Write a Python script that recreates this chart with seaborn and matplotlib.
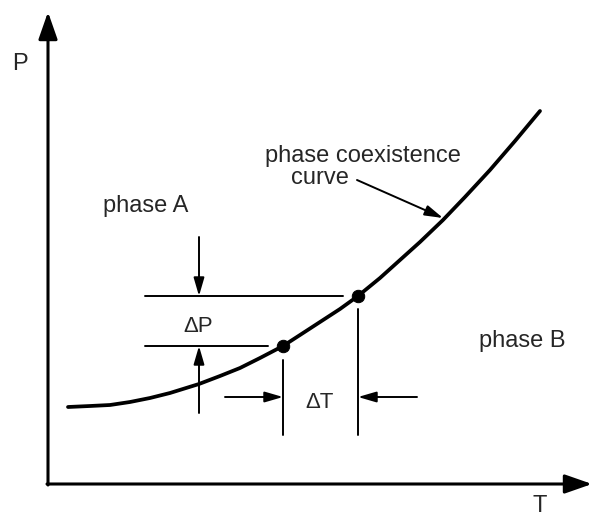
import numpy as np
import pandas as pd
import matplotlib
matplotlib.use("Agg")
import matplotlib.pyplot as plt
import seaborn as sns

sns.set_style("white")
plt.rcParams["font.family"] = ["Liberation Sans", "DejaVu Sans"]

# --- coexistence curve (diagram units, y up) ---
curve_T = [68, 90, 110, 130, 150, 170, 199, 220, 240, 260, 283, 300,
           320, 340, 358, 380, 400, 420, 443, 465, 490, 515, 540]
curve_P = [109, 110, 111, 114, 118, 123, 132, 140, 148, 158, 170, 181,
           194, 207, 220, 238, 256, 274, 296, 319, 346, 375, 405]

# the two marked states on the curve
state_T = [283, 358]
state_P = [170, 220]

# region / axis labels: (text, x, baseline y, size)
labels = [
    ("P", 19.5, 446, 17),
    ("T", 540, 4, 17),
    ("phase A", 146, 304, 17),
    ("phase B", 522, 169, 17),
    ("phase coexistence", 363, 354, 17),
    ("curve", 320, 332, 17),
    ("\u0394P", 198, 184, 16),
    ("\u0394T", 320, 108, 16),
]

curve = pd.DataFrame({"T": curve_T, "P": curve_P})
states = pd.DataFrame({"T": state_T, "P": state_P})

fig = plt.figure(figsize=(5.92, 5.16), dpi=100)
ax = fig.add_axes([0, 0, 1, 1])
ax.set_xlim(0, 592)
ax.set_ylim(0, 516)
ax.axis("off")

# --- axes with arrow heads ---
big = dict(arrowstyle="-|>,head_length=1.66,head_width=0.58", color="black",
           lw=2.2, mutation_scale=10, shrinkA=0, shrinkB=0)
ax.annotate("", xy=(48, 504), xytext=(48, 31), arrowprops=big,
            annotation_clip=False)
ax.annotate("", xy=(592, 32), xytext=(47, 32), arrowprops=big,
            annotation_clip=False)

# --- curve and states ---
sns.lineplot(data=curve, x="T", y="P", sort=False, estimator=None,
             color="black", lw=2.7, ax=ax)
sns.scatterplot(data=states, x="T", y="P", color="black", s=80,
                edgecolor="black", zorder=5, ax=ax)

# --- dimension lines ---
thin = dict(color="black", lw=1.4)
ax.plot([145, 343], [state_P[1], state_P[1]], **thin)
ax.plot([145, 268], [state_P[0], state_P[0]], **thin)
ax.plot([state_T[0], state_T[0]], [156, 81], **thin)
ax.plot([state_T[1], state_T[1]], [207, 81], **thin)

small = dict(arrowstyle="-|>,head_length=1.1,head_width=0.32", color="black",
             lw=1.4, mutation_scale=10, shrinkA=0, shrinkB=0)
ax.annotate("", xy=(199, state_P[1]), xytext=(199, 279), arrowprops=small)
ax.annotate("", xy=(199, state_P[0]), xytext=(199, 103), arrowprops=small)
ax.annotate("", xy=(state_T[0], 119), xytext=(225, 119), arrowprops=small)
ax.annotate("", xy=(state_T[1], 119), xytext=(417, 119), arrowprops=small)

# pointer to the curve
ax.annotate("", xy=(443, 298), xytext=(357, 336), arrowprops=small)

for txt, x, y, size in labels:
    ax.text(x, y, txt, ha="center", va="baseline", fontsize=size,
            clip_on=False)

fig.savefig("out.png", dpi=100)
